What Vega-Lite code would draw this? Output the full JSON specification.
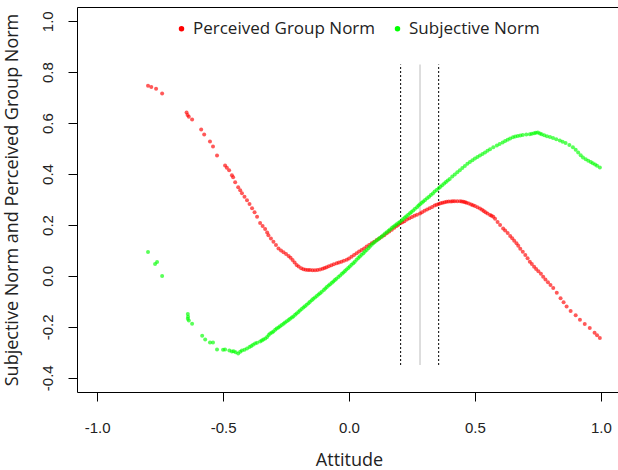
{
  "$schema": "https://vega.github.io/schema/vega-lite/v6.json",
  "width": 544,
  "height": 385,
  "autosize": {"type": "none"},
  "padding": {"left": 77, "top": 7, "right": 0, "bottom": 78},
  "background": "white",
  "config": {
    "view": {"stroke": "black", "strokeWidth": 1},
    "axis": {"grid": false, "domain": false, "tickColor": "black", "tickSize": 9, "tickWidth": 1, "labelColor": "#222", "titleColor": "#222", "labelFont": "Liberation Sans", "labelFontSize": 15, "titleFont": "Open Sans", "titleFontSize": 18, "titleFontWeight": "normal"}
  },
  "datasets": {
    "points": [
{"series":"Perceived Group Norm","x":-0.798,"y":0.747},{"series":"Perceived Group Norm","x":-0.785,"y":0.742},{"series":"Perceived Group Norm","x":-0.766,"y":0.735},{"series":"Perceived Group Norm","x":-0.742,"y":0.716},{"series":"Perceived Group Norm","x":-0.645,"y":0.642},{"series":"Perceived Group Norm","x":-0.641,"y":0.632},{"series":"Perceived Group Norm","x":-0.636,"y":0.625},{"series":"Perceived Group Norm","x":-0.623,"y":0.614},{"series":"Perceived Group Norm","x":-0.587,"y":0.575},{"series":"Perceived Group Norm","x":-0.575,"y":0.555},{"series":"Perceived Group Norm","x":-0.552,"y":0.528},{"series":"Perceived Group Norm","x":-0.54,"y":0.508},{"series":"Perceived Group Norm","x":-0.524,"y":0.473},{"series":"Perceived Group Norm","x":-0.492,"y":0.434},{"series":"Perceived Group Norm","x":-0.485,"y":0.425},{"series":"Perceived Group Norm","x":-0.476,"y":0.415},{"series":"Perceived Group Norm","x":-0.465,"y":0.395},{"series":"Perceived Group Norm","x":-0.46,"y":0.387},{"series":"Perceived Group Norm","x":-0.452,"y":0.368},{"series":"Perceived Group Norm","x":-0.44,"y":0.348},{"series":"Perceived Group Norm","x":-0.432,"y":0.336},{"series":"Perceived Group Norm","x":-0.425,"y":0.325},{"series":"Perceived Group Norm","x":-0.415,"y":0.311},{"series":"Perceived Group Norm","x":-0.405,"y":0.297},{"series":"Perceived Group Norm","x":-0.395,"y":0.282},{"series":"Perceived Group Norm","x":-0.385,"y":0.266},{"series":"Perceived Group Norm","x":-0.375,"y":0.25},{"series":"Perceived Group Norm","x":-0.365,"y":0.232},{"series":"Perceived Group Norm","x":-0.353,"y":0.208},{"series":"Perceived Group Norm","x":-0.343,"y":0.196},{"series":"Perceived Group Norm","x":-0.333,"y":0.184},{"series":"Perceived Group Norm","x":-0.325,"y":0.17},{"series":"Perceived Group Norm","x":-0.32,"y":0.16},{"series":"Perceived Group Norm","x":-0.31,"y":0.147},{"series":"Perceived Group Norm","x":-0.3,"y":0.134},{"series":"Perceived Group Norm","x":-0.29,"y":0.121},{"series":"Perceived Group Norm","x":-0.28,"y":0.108},{"series":"Perceived Group Norm","x":-0.27,"y":0.1},{"series":"Perceived Group Norm","x":-0.26,"y":0.093},{"series":"Perceived Group Norm","x":-0.25,"y":0.086},{"series":"Perceived Group Norm","x":-0.24,"y":0.078},{"series":"Perceived Group Norm","x":-0.232,"y":0.071},{"series":"Perceived Group Norm","x":-0.224,"y":0.062},{"series":"Perceived Group Norm","x":-0.216,"y":0.053},{"series":"Perceived Group Norm","x":-0.208,"y":0.043},{"series":"Perceived Group Norm","x":-0.2,"y":0.037},{"series":"Perceived Group Norm","x":-0.19,"y":0.03},{"series":"Perceived Group Norm","x":-0.181,"y":0.026},{"series":"Perceived Group Norm","x":-0.172,"y":0.024},{"series":"Perceived Group Norm","x":-0.163,"y":0.023},{"series":"Perceived Group Norm","x":-0.155,"y":0.023},{"series":"Perceived Group Norm","x":-0.145,"y":0.022},{"series":"Perceived Group Norm","x":-0.135,"y":0.022},{"series":"Perceived Group Norm","x":-0.125,"y":0.023},{"series":"Perceived Group Norm","x":-0.115,"y":0.025},{"series":"Perceived Group Norm","x":-0.105,"y":0.028},{"series":"Perceived Group Norm","x":-0.097,"y":0.031},{"series":"Perceived Group Norm","x":-0.089,"y":0.034},{"series":"Perceived Group Norm","x":-0.08,"y":0.038},{"series":"Perceived Group Norm","x":-0.07,"y":0.042},{"series":"Perceived Group Norm","x":-0.06,"y":0.046},{"series":"Perceived Group Norm","x":-0.049,"y":0.05},{"series":"Perceived Group Norm","x":-0.04,"y":0.053},{"series":"Perceived Group Norm","x":-0.03,"y":0.056},{"series":"Perceived Group Norm","x":-0.02,"y":0.059},{"series":"Perceived Group Norm","x":-0.009,"y":0.063},{"series":"Perceived Group Norm","x":0.0,"y":0.068},{"series":"Perceived Group Norm","x":0.01,"y":0.075},{"series":"Perceived Group Norm","x":0.02,"y":0.082},{"series":"Perceived Group Norm","x":0.03,"y":0.089},{"series":"Perceived Group Norm","x":0.04,"y":0.096},{"series":"Perceived Group Norm","x":0.05,"y":0.102},{"series":"Perceived Group Norm","x":0.06,"y":0.108},{"series":"Perceived Group Norm","x":0.07,"y":0.115},{"series":"Perceived Group Norm","x":0.08,"y":0.121},{"series":"Perceived Group Norm","x":0.09,"y":0.128},{"series":"Perceived Group Norm","x":0.1,"y":0.134},{"series":"Perceived Group Norm","x":0.11,"y":0.141},{"series":"Perceived Group Norm","x":0.12,"y":0.147},{"series":"Perceived Group Norm","x":0.13,"y":0.154},{"series":"Perceived Group Norm","x":0.14,"y":0.16},{"series":"Perceived Group Norm","x":0.15,"y":0.167},{"series":"Perceived Group Norm","x":0.16,"y":0.174},{"series":"Perceived Group Norm","x":0.17,"y":0.181},{"series":"Perceived Group Norm","x":0.18,"y":0.189},{"series":"Perceived Group Norm","x":0.189,"y":0.196},{"series":"Perceived Group Norm","x":0.196,"y":0.201},{"series":"Perceived Group Norm","x":0.205,"y":0.208},{"series":"Perceived Group Norm","x":0.212,"y":0.211},{"series":"Perceived Group Norm","x":0.22,"y":0.215},{"series":"Perceived Group Norm","x":0.23,"y":0.221},{"series":"Perceived Group Norm","x":0.24,"y":0.226},{"series":"Perceived Group Norm","x":0.25,"y":0.231},{"series":"Perceived Group Norm","x":0.26,"y":0.236},{"series":"Perceived Group Norm","x":0.27,"y":0.24},{"series":"Perceived Group Norm","x":0.282,"y":0.245},{"series":"Perceived Group Norm","x":0.29,"y":0.25},{"series":"Perceived Group Norm","x":0.3,"y":0.256},{"series":"Perceived Group Norm","x":0.31,"y":0.261},{"series":"Perceived Group Norm","x":0.32,"y":0.266},{"series":"Perceived Group Norm","x":0.33,"y":0.271},{"series":"Perceived Group Norm","x":0.34,"y":0.276},{"series":"Perceived Group Norm","x":0.348,"y":0.279},{"series":"Perceived Group Norm","x":0.356,"y":0.282},{"series":"Perceived Group Norm","x":0.364,"y":0.285},{"series":"Perceived Group Norm","x":0.372,"y":0.287},{"series":"Perceived Group Norm","x":0.38,"y":0.289},{"series":"Perceived Group Norm","x":0.388,"y":0.291},{"series":"Perceived Group Norm","x":0.396,"y":0.292},{"series":"Perceived Group Norm","x":0.405,"y":0.292},{"series":"Perceived Group Norm","x":0.412,"y":0.293},{"series":"Perceived Group Norm","x":0.42,"y":0.293},{"series":"Perceived Group Norm","x":0.43,"y":0.293},{"series":"Perceived Group Norm","x":0.441,"y":0.293},{"series":"Perceived Group Norm","x":0.448,"y":0.292},{"series":"Perceived Group Norm","x":0.455,"y":0.291},{"series":"Perceived Group Norm","x":0.461,"y":0.289},{"series":"Perceived Group Norm","x":0.467,"y":0.287},{"series":"Perceived Group Norm","x":0.476,"y":0.284},{"series":"Perceived Group Norm","x":0.485,"y":0.28},{"series":"Perceived Group Norm","x":0.492,"y":0.277},{"series":"Perceived Group Norm","x":0.5,"y":0.274},{"series":"Perceived Group Norm","x":0.51,"y":0.27},{"series":"Perceived Group Norm","x":0.52,"y":0.265},{"series":"Perceived Group Norm","x":0.528,"y":0.26},{"series":"Perceived Group Norm","x":0.535,"y":0.255},{"series":"Perceived Group Norm","x":0.542,"y":0.25},{"series":"Perceived Group Norm","x":0.55,"y":0.245},{"series":"Perceived Group Norm","x":0.56,"y":0.239},{"series":"Perceived Group Norm","x":0.566,"y":0.236},{"series":"Perceived Group Norm","x":0.573,"y":0.232},{"series":"Perceived Group Norm","x":0.58,"y":0.224},{"series":"Perceived Group Norm","x":0.59,"y":0.212},{"series":"Perceived Group Norm","x":0.6,"y":0.2},{"series":"Perceived Group Norm","x":0.612,"y":0.186},{"series":"Perceived Group Norm","x":0.62,"y":0.178},{"series":"Perceived Group Norm","x":0.63,"y":0.168},{"series":"Perceived Group Norm","x":0.64,"y":0.157},{"series":"Perceived Group Norm","x":0.648,"y":0.148},{"series":"Perceived Group Norm","x":0.656,"y":0.138},{"series":"Perceived Group Norm","x":0.665,"y":0.128},{"series":"Perceived Group Norm","x":0.672,"y":0.118},{"series":"Perceived Group Norm","x":0.68,"y":0.107},{"series":"Perceived Group Norm","x":0.69,"y":0.095},{"series":"Perceived Group Norm","x":0.7,"y":0.082},{"series":"Perceived Group Norm","x":0.709,"y":0.069},{"series":"Perceived Group Norm","x":0.718,"y":0.056},{"series":"Perceived Group Norm","x":0.726,"y":0.047},{"series":"Perceived Group Norm","x":0.735,"y":0.036},{"series":"Perceived Group Norm","x":0.743,"y":0.027},{"series":"Perceived Group Norm","x":0.752,"y":0.018},{"series":"Perceived Group Norm","x":0.762,"y":0.008},{"series":"Perceived Group Norm","x":0.771,"y":-0.003},{"series":"Perceived Group Norm","x":0.78,"y":-0.014},{"series":"Perceived Group Norm","x":0.79,"y":-0.025},{"series":"Perceived Group Norm","x":0.8,"y":-0.036},{"series":"Perceived Group Norm","x":0.811,"y":-0.048},{"series":"Perceived Group Norm","x":0.825,"y":-0.066},{"series":"Perceived Group Norm","x":0.84,"y":-0.088},{"series":"Perceived Group Norm","x":0.852,"y":-0.104},{"series":"Perceived Group Norm","x":0.864,"y":-0.12},{"series":"Perceived Group Norm","x":0.88,"y":-0.138},{"series":"Perceived Group Norm","x":0.9,"y":-0.155},{"series":"Perceived Group Norm","x":0.917,"y":-0.172},{"series":"Perceived Group Norm","x":0.936,"y":-0.189},{"series":"Perceived Group Norm","x":0.956,"y":-0.205},{"series":"Perceived Group Norm","x":0.975,"y":-0.223},{"series":"Perceived Group Norm","x":0.985,"y":-0.233},{"series":"Perceived Group Norm","x":0.996,"y":-0.244},
{"series":"Subjective Norm","x":-0.798,"y":0.094},{"series":"Subjective Norm","x":-0.77,"y":0.047},{"series":"Subjective Norm","x":-0.762,"y":0.055},{"series":"Subjective Norm","x":-0.742,"y":0.0},{"series":"Subjective Norm","x":-0.64,"y":-0.15},{"series":"Subjective Norm","x":-0.639,"y":-0.16},{"series":"Subjective Norm","x":-0.64,"y":-0.168},{"series":"Subjective Norm","x":-0.636,"y":-0.175},{"series":"Subjective Norm","x":-0.623,"y":-0.188},{"series":"Subjective Norm","x":-0.583,"y":-0.235},{"series":"Subjective Norm","x":-0.571,"y":-0.25},{"series":"Subjective Norm","x":-0.552,"y":-0.262},{"series":"Subjective Norm","x":-0.54,"y":-0.262},{"series":"Subjective Norm","x":-0.524,"y":-0.289},{"series":"Subjective Norm","x":-0.5,"y":-0.29},{"series":"Subjective Norm","x":-0.492,"y":-0.289},{"series":"Subjective Norm","x":-0.475,"y":-0.293},{"series":"Subjective Norm","x":-0.465,"y":-0.297},{"series":"Subjective Norm","x":-0.458,"y":-0.296},{"series":"Subjective Norm","x":-0.45,"y":-0.3},{"series":"Subjective Norm","x":-0.44,"y":-0.305},{"series":"Subjective Norm","x":-0.432,"y":-0.298},{"series":"Subjective Norm","x":-0.425,"y":-0.293},{"series":"Subjective Norm","x":-0.415,"y":-0.29},{"series":"Subjective Norm","x":-0.405,"y":-0.285},{"series":"Subjective Norm","x":-0.395,"y":-0.279},{"series":"Subjective Norm","x":-0.388,"y":-0.275},{"series":"Subjective Norm","x":-0.381,"y":-0.27},{"series":"Subjective Norm","x":-0.373,"y":-0.266},{"series":"Subjective Norm","x":-0.365,"y":-0.263},{"series":"Subjective Norm","x":-0.353,"y":-0.258},{"series":"Subjective Norm","x":-0.346,"y":-0.254},{"series":"Subjective Norm","x":-0.34,"y":-0.25},{"series":"Subjective Norm","x":-0.332,"y":-0.246},{"series":"Subjective Norm","x":-0.325,"y":-0.24},{"series":"Subjective Norm","x":-0.319,"y":-0.232},{"series":"Subjective Norm","x":-0.313,"y":-0.226},{"series":"Subjective Norm","x":-0.306,"y":-0.222},{"series":"Subjective Norm","x":-0.3,"y":-0.218},{"series":"Subjective Norm","x":-0.293,"y":-0.212},{"series":"Subjective Norm","x":-0.287,"y":-0.207},{"series":"Subjective Norm","x":-0.28,"y":-0.203},{"series":"Subjective Norm","x":-0.274,"y":-0.198},{"series":"Subjective Norm","x":-0.267,"y":-0.193},{"series":"Subjective Norm","x":-0.26,"y":-0.188},{"series":"Subjective Norm","x":-0.254,"y":-0.183},{"series":"Subjective Norm","x":-0.247,"y":-0.178},{"series":"Subjective Norm","x":-0.24,"y":-0.173},{"series":"Subjective Norm","x":-0.234,"y":-0.168},{"series":"Subjective Norm","x":-0.227,"y":-0.163},{"series":"Subjective Norm","x":-0.221,"y":-0.159},{"series":"Subjective Norm","x":-0.214,"y":-0.153},{"series":"Subjective Norm","x":-0.208,"y":-0.148},{"series":"Subjective Norm","x":-0.201,"y":-0.142},{"series":"Subjective Norm","x":-0.195,"y":-0.136},{"series":"Subjective Norm","x":-0.188,"y":-0.13},{"series":"Subjective Norm","x":-0.181,"y":-0.124},{"series":"Subjective Norm","x":-0.175,"y":-0.119},{"series":"Subjective Norm","x":-0.168,"y":-0.113},{"series":"Subjective Norm","x":-0.161,"y":-0.107},{"series":"Subjective Norm","x":-0.155,"y":-0.102},{"series":"Subjective Norm","x":-0.148,"y":-0.096},{"series":"Subjective Norm","x":-0.142,"y":-0.09},{"series":"Subjective Norm","x":-0.135,"y":-0.085},{"series":"Subjective Norm","x":-0.128,"y":-0.079},{"series":"Subjective Norm","x":-0.121,"y":-0.073},{"series":"Subjective Norm","x":-0.115,"y":-0.068},{"series":"Subjective Norm","x":-0.108,"y":-0.062},{"series":"Subjective Norm","x":-0.1,"y":-0.055},{"series":"Subjective Norm","x":-0.094,"y":-0.05},{"series":"Subjective Norm","x":-0.088,"y":-0.044},{"series":"Subjective Norm","x":-0.081,"y":-0.038},{"series":"Subjective Norm","x":-0.075,"y":-0.033},{"series":"Subjective Norm","x":-0.068,"y":-0.027},{"series":"Subjective Norm","x":-0.062,"y":-0.022},{"series":"Subjective Norm","x":-0.056,"y":-0.016},{"series":"Subjective Norm","x":-0.05,"y":-0.011},{"series":"Subjective Norm","x":-0.042,"y":-0.004},{"series":"Subjective Norm","x":-0.035,"y":0.002},{"series":"Subjective Norm","x":-0.028,"y":0.008},{"series":"Subjective Norm","x":-0.022,"y":0.013},{"series":"Subjective Norm","x":-0.016,"y":0.019},{"series":"Subjective Norm","x":-0.01,"y":0.025},{"series":"Subjective Norm","x":-0.003,"y":0.031},{"series":"Subjective Norm","x":0.003,"y":0.037},{"series":"Subjective Norm","x":0.01,"y":0.044},{"series":"Subjective Norm","x":0.017,"y":0.05},{"series":"Subjective Norm","x":0.023,"y":0.056},{"series":"Subjective Norm","x":0.03,"y":0.063},{"series":"Subjective Norm","x":0.037,"y":0.07},{"series":"Subjective Norm","x":0.043,"y":0.076},{"series":"Subjective Norm","x":0.05,"y":0.083},{"series":"Subjective Norm","x":0.057,"y":0.089},{"series":"Subjective Norm","x":0.063,"y":0.096},{"series":"Subjective Norm","x":0.07,"y":0.102},{"series":"Subjective Norm","x":0.077,"y":0.109},{"series":"Subjective Norm","x":0.083,"y":0.115},{"series":"Subjective Norm","x":0.09,"y":0.122},{"series":"Subjective Norm","x":0.096,"y":0.128},{"series":"Subjective Norm","x":0.103,"y":0.134},{"series":"Subjective Norm","x":0.11,"y":0.139},{"series":"Subjective Norm","x":0.117,"y":0.145},{"series":"Subjective Norm","x":0.123,"y":0.15},{"series":"Subjective Norm","x":0.13,"y":0.155},{"series":"Subjective Norm","x":0.136,"y":0.16},{"series":"Subjective Norm","x":0.143,"y":0.166},{"series":"Subjective Norm","x":0.15,"y":0.171},{"series":"Subjective Norm","x":0.157,"y":0.177},{"series":"Subjective Norm","x":0.163,"y":0.182},{"series":"Subjective Norm","x":0.17,"y":0.188},{"series":"Subjective Norm","x":0.176,"y":0.193},{"series":"Subjective Norm","x":0.183,"y":0.198},{"series":"Subjective Norm","x":0.189,"y":0.203},{"series":"Subjective Norm","x":0.196,"y":0.208},{"series":"Subjective Norm","x":0.202,"y":0.212},{"series":"Subjective Norm","x":0.209,"y":0.218},{"series":"Subjective Norm","x":0.215,"y":0.223},{"series":"Subjective Norm","x":0.222,"y":0.229},{"series":"Subjective Norm","x":0.228,"y":0.234},{"series":"Subjective Norm","x":0.235,"y":0.24},{"series":"Subjective Norm","x":0.242,"y":0.246},{"series":"Subjective Norm","x":0.248,"y":0.251},{"series":"Subjective Norm","x":0.255,"y":0.257},{"series":"Subjective Norm","x":0.262,"y":0.264},{"series":"Subjective Norm","x":0.27,"y":0.27},{"series":"Subjective Norm","x":0.276,"y":0.276},{"series":"Subjective Norm","x":0.282,"y":0.281},{"series":"Subjective Norm","x":0.289,"y":0.287},{"series":"Subjective Norm","x":0.295,"y":0.292},{"series":"Subjective Norm","x":0.302,"y":0.298},{"series":"Subjective Norm","x":0.31,"y":0.305},{"series":"Subjective Norm","x":0.318,"y":0.311},{"series":"Subjective Norm","x":0.325,"y":0.318},{"series":"Subjective Norm","x":0.333,"y":0.324},{"series":"Subjective Norm","x":0.34,"y":0.331},{"series":"Subjective Norm","x":0.348,"y":0.337},{"series":"Subjective Norm","x":0.356,"y":0.344},{"series":"Subjective Norm","x":0.363,"y":0.35},{"series":"Subjective Norm","x":0.37,"y":0.356},{"series":"Subjective Norm","x":0.378,"y":0.363},{"series":"Subjective Norm","x":0.385,"y":0.369},{"series":"Subjective Norm","x":0.392,"y":0.375},{"series":"Subjective Norm","x":0.4,"y":0.381},{"series":"Subjective Norm","x":0.41,"y":0.39},{"series":"Subjective Norm","x":0.42,"y":0.398},{"series":"Subjective Norm","x":0.43,"y":0.407},{"series":"Subjective Norm","x":0.44,"y":0.415},{"series":"Subjective Norm","x":0.45,"y":0.424},{"series":"Subjective Norm","x":0.46,"y":0.432},{"series":"Subjective Norm","x":0.47,"y":0.44},{"series":"Subjective Norm","x":0.48,"y":0.447},{"series":"Subjective Norm","x":0.49,"y":0.454},{"series":"Subjective Norm","x":0.5,"y":0.461},{"series":"Subjective Norm","x":0.51,"y":0.467},{"series":"Subjective Norm","x":0.52,"y":0.473},{"series":"Subjective Norm","x":0.53,"y":0.479},{"series":"Subjective Norm","x":0.54,"y":0.485},{"series":"Subjective Norm","x":0.55,"y":0.491},{"series":"Subjective Norm","x":0.56,"y":0.497},{"series":"Subjective Norm","x":0.573,"y":0.505},{"series":"Subjective Norm","x":0.587,"y":0.512},{"series":"Subjective Norm","x":0.598,"y":0.518},{"series":"Subjective Norm","x":0.61,"y":0.524},{"series":"Subjective Norm","x":0.62,"y":0.53},{"series":"Subjective Norm","x":0.63,"y":0.535},{"series":"Subjective Norm","x":0.64,"y":0.54},{"series":"Subjective Norm","x":0.651,"y":0.544},{"series":"Subjective Norm","x":0.66,"y":0.547},{"series":"Subjective Norm","x":0.67,"y":0.549},{"series":"Subjective Norm","x":0.68,"y":0.551},{"series":"Subjective Norm","x":0.69,"y":0.553},{"series":"Subjective Norm","x":0.704,"y":0.555},{"series":"Subjective Norm","x":0.718,"y":0.556},{"series":"Subjective Norm","x":0.726,"y":0.558},{"series":"Subjective Norm","x":0.735,"y":0.56},{"series":"Subjective Norm","x":0.742,"y":0.562},{"series":"Subjective Norm","x":0.75,"y":0.563},{"series":"Subjective Norm","x":0.758,"y":0.559},{"series":"Subjective Norm","x":0.765,"y":0.556},{"series":"Subjective Norm","x":0.775,"y":0.552},{"series":"Subjective Norm","x":0.786,"y":0.548},{"series":"Subjective Norm","x":0.798,"y":0.545},{"series":"Subjective Norm","x":0.81,"y":0.542},{"series":"Subjective Norm","x":0.823,"y":0.537},{"series":"Subjective Norm","x":0.837,"y":0.532},{"series":"Subjective Norm","x":0.848,"y":0.527},{"series":"Subjective Norm","x":0.86,"y":0.522},{"series":"Subjective Norm","x":0.875,"y":0.514},{"series":"Subjective Norm","x":0.889,"y":0.505},{"series":"Subjective Norm","x":0.9,"y":0.495},{"series":"Subjective Norm","x":0.91,"y":0.485},{"series":"Subjective Norm","x":0.92,"y":0.474},{"series":"Subjective Norm","x":0.929,"y":0.465},{"series":"Subjective Norm","x":0.94,"y":0.458},{"series":"Subjective Norm","x":0.95,"y":0.452},{"series":"Subjective Norm","x":0.96,"y":0.447},{"series":"Subjective Norm","x":0.968,"y":0.442},{"series":"Subjective Norm","x":0.977,"y":0.437},{"series":"Subjective Norm","x":0.985,"y":0.433},{"series":"Subjective Norm","x":0.996,"y":0.426}
    ],
    "rules": [
      {"x": 0.205, "y": -0.35, "y2": 0.83, "kind": "dotted"},
      {"x": 0.282, "y": -0.35, "y2": 0.83, "kind": "solid"},
      {"x": 0.356, "y": -0.35, "y2": 0.83, "kind": "dotted"}
    ]
  },
  "layer": [
    {
      "data": {"name": "rules"},
      "mark": {"type": "rule"},
      "encoding": {
        "x": {"field": "x", "type": "quantitative", "scale": {"domain": [-1.08, 1.08], "nice": false, "zero": false}},
        "y": {"field": "y", "type": "quantitative", "scale": {"domain": [-0.456, 1.056], "nice": false, "zero": false}},
        "y2": {"field": "y2"},
        "color": {"condition": {"test": "datum.kind == 'solid'", "value": "#d3d3d3"}, "value": "black"},
        "strokeDash": {"condition": {"test": "datum.kind == 'solid'", "value": [1, 0]}, "value": [2, 2]},
        "strokeWidth": {"condition": {"test": "datum.kind == 'solid'", "value": 1.5}, "value": 1}
      }
    },
    {
      "data": {"name": "points"},
      "mark": {"type": "circle", "size": 16, "opacity": 0.65},
      "encoding": {
        "x": {"field": "x", "type": "quantitative", "scale": {"domain": [-1.08, 1.08], "nice": false, "zero": false},
              "axis": {"title": "Attitude", "values": [-1, -0.5, 0, 0.5, 1], "labelExpr": "replace(format(datum.value, '.1f'), '\u2212', '-')", "labelPadding": 19, "titlePadding": 16}},
        "y": {"field": "y", "type": "quantitative", "scale": {"domain": [-0.456, 1.056], "nice": false, "zero": false},
              "axis": {"title": "Subjective Norm and Perceived Group Norm", "values": [-0.4, -0.2, 0, 0.2, 0.4, 0.6, 0.8, 1.0], "labelExpr": "replace(format(datum.value, '.1f'), '\u2212', '-')", "labelAngle": -90, "labelAlign": "center", "labelBaseline": "bottom", "labelPadding": 13, "titlePadding": 19}},
        "color": {"field": "series", "type": "nominal",
                  "scale": {"domain": ["Perceived Group Norm", "Subjective Norm"], "range": ["#ff0000", "#00ff00"]},
                  "legend": {"title": null, "orient": "none", "legendX": 96, "legendY": 13, "direction": "horizontal", "symbolType": "circle", "symbolSize": 30, "symbolOpacity": 1, "symbolStrokeWidth": 0, "labelFont": "Open Sans", "labelFontSize": 17, "labelColor": "#222", "labelOffset": 3, "labelLimit": 0, "columnPadding": 13}}
      }
    }
  ]
}
